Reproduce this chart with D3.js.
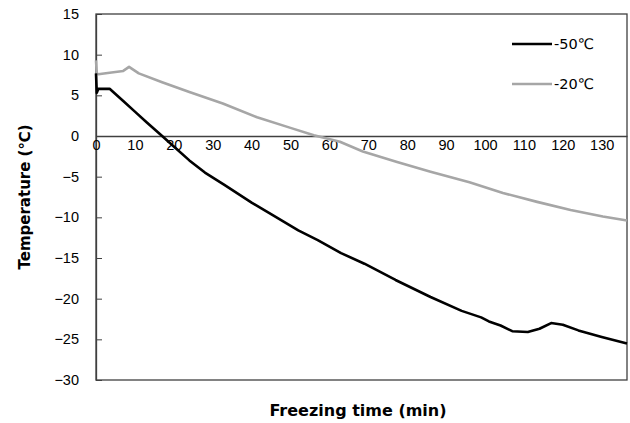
<!DOCTYPE html>
<html lang="en">
<head>
  <meta charset="UTF-8" />
  <title>Freezing curves</title>
  <script src="https://d3js.org/d3.v7.min.js"></script>
  <style>
    body { margin: 0; background: #fff; font-family: "DejaVu Sans", sans-serif; }
    .tick text { font-size: 14.5px; fill: #000; }
  </style>
</head>
<body>
<svg width="630" height="423"></svg>
<script>
// -50 C series (min, degC)
const coldTime = [0, 0.2, 0.6, 3.5, 7, 10, 13, 17, 20, 24, 28, 33, 40, 45, 52, 57, 63, 69, 77, 86, 94, 99, 101, 104, 107, 111, 114, 117, 120, 124, 130, 136.5];
const coldTemp = [7.7, 5.3, 5.8, 5.8, 4.3, 3.0, 1.7, 0, -1.3, -3.0, -4.5, -6.0, -8.2, -9.6, -11.6, -12.8, -14.4, -15.7, -17.7, -19.8, -21.5, -22.3, -22.8, -23.3, -24.0, -24.1, -23.7, -23.0, -23.2, -23.9, -24.7, -25.5];
// -20 C series
const warmTime = [0, 0.2, 0.6, 4, 7, 8.5, 11, 17, 24, 32.6, 41.4, 50, 56, 62.7, 68.6, 77.4, 86, 96, 104.6, 113.4, 122, 130.3, 136.5];
const warmTemp = [9.3, 7.7, 7.6, 7.8, 8.0, 8.5, 7.7, 6.6, 5.4, 4.0, 2.3, 1.0, 0.1, -0.7, -1.9, -3.2, -4.4, -5.7, -7.0, -8.1, -9.1, -9.9, -10.4];

const xTicks = d3.range(0, 131, 10);
const yTicks = d3.range(-30, 16, 5);
const seriesNames = ["-50\u2103", "-20\u2103"];
const seriesColors = ["#000000", "#a6a6a6"];

const svg = d3.select("svg");
const margin = { top: 14, right: 3, bottom: 43, left: 96 };
const width = 630 - margin.left - margin.right,
      height = 423 - margin.top - margin.bottom;

const g = svg.append("g").attr("transform", `translate(${margin.left},${margin.top})`);

const x = d3.scaleLinear().domain([0, 136.5]).range([0, width]);
const y = d3.scaleLinear().domain([-30, 15]).range([height, 0]);

// plot frame
g.append("rect")
  .attr("width", width).attr("height", height)
  .attr("fill", "none").attr("stroke", "#404040").attr("stroke-width", 1.3);

// y axis, ticks pointing inward
const yAxis = g.append("g")
  .call(d3.axisLeft(y).tickValues(yTicks).tickSizeInner(-6).tickSizeOuter(0).tickPadding(17));
yAxis.select(".domain").attr("stroke", "#404040").attr("stroke-width", 1.3);
yAxis.selectAll(".tick line").attr("stroke", "#404040");

// x axis on the zero line, no tick marks
const xAxis = g.append("g")
  .attr("transform", `translate(0,${y(0)})`)
  .call(d3.axisBottom(x).tickValues(xTicks).tickSize(0).tickPadding(4));
xAxis.select(".domain").attr("stroke", "#404040").attr("stroke-width", 1.3);

const line = d3.line().x(d => x(d[0])).y(d => y(d[1]));
const series = [
  d3.zip(warmTime, warmTemp),
  d3.zip(coldTime, coldTemp)
];
g.selectAll(".series")
  .data(series)
  .join("path")
  .attr("class", "series")
  .attr("fill", "none")
  .attr("stroke", (d, i) => i === 0 ? seriesColors[1] : seriesColors[0])
  .attr("stroke-width", 2.6)
  .attr("stroke-linejoin", "round")
  .attr("d", line);

// legend
const legend = g.append("g").attr("transform", `translate(${512 - margin.left},${31 - margin.top})`);
seriesNames.forEach((name, i) => {
  legend.append("line")
    .attr("x1", 0).attr("x2", 40)
    .attr("y1", i * 40 + 13).attr("y2", i * 40 + 13)
    .attr("stroke", seriesColors[i]).attr("stroke-width", 2.6);
  legend.append("text")
    .attr("x", 42).attr("y", i * 40 + 13).attr("dy", "0.35em")
    .attr("font-size", 14.5)
    .text(name);
});

// axis titles
svg.append("text")
  .attr("transform", `translate(30,${margin.top + height / 2}) rotate(-90)`)
  .attr("text-anchor", "middle")
  .attr("font-weight", "bold").attr("font-size", 15)
  .text("Temperature (\u2103)");

svg.append("text")
  .attr("x", 358).attr("y", 416)
  .attr("text-anchor", "middle")
  .attr("font-weight", "bold").attr("font-size", 16)
  .text("Freezing time (min)");
</script>
</body>
</html>
